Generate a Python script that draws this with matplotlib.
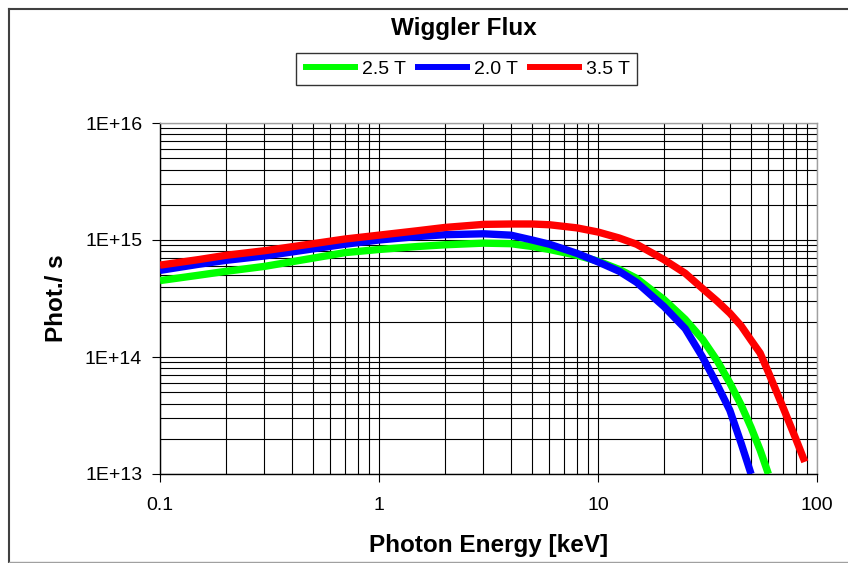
import matplotlib
matplotlib.use("Agg")
import matplotlib.pyplot as plt
from matplotlib.lines import Line2D
from matplotlib.ticker import LogLocator, NullFormatter

plt.rcParams['font.family'] = ['Liberation Sans', 'DejaVu Sans']

# ---- data ----
energy_25 = [0.1, 0.15, 0.2, 0.3, 0.5, 0.7, 1, 1.5, 2, 3, 4, 5, 6, 8, 10,
             12.5, 15, 20, 25, 30, 35, 40, 45, 50, 55, 60]
flux_25 = [4.5e14, 5.0e14, 5.4e14, 5.95e14, 7.0e14, 7.8e14, 8.3e14, 8.8e14,
           9.1e14, 9.4e14, 9.3e14, 8.8e14, 8.3e14, 7.4e14, 6.6e14, 5.6e14,
           4.7e14, 3.1e14, 2.1e14, 1.42e14, 9.3e13, 6.0e13, 3.9e13, 2.5e13,
           1.6e13, 1.0e13]

energy_20 = [0.1, 0.15, 0.2, 0.3, 0.5, 0.7, 1, 1.5, 2, 3, 4, 5, 6, 8, 10,
             12.5, 15, 20, 25, 30, 35, 40, 45, 50]
flux_20 = [5.5e14, 6.2e14, 6.7e14, 7.3e14, 8.4e14, 9.2e14, 1.0e15, 1.07e15,
           1.11e15, 1.13e15, 1.1e15, 1.0e15, 9.2e14, 7.7e14, 6.5e14, 5.4e14,
           4.35e14, 2.7e14, 1.75e14, 1.0e14, 5.8e13, 3.5e13, 1.84e13, 1.0e13]

energy_35 = [0.1, 0.15, 0.2, 0.3, 0.5, 0.7, 1, 1.5, 2, 3, 4, 5, 6, 8, 10,
             12.5, 15, 20, 25, 30, 35, 40, 45, 50, 55, 60, 70, 80, 88]
flux_35 = [6.1e14, 6.8e14, 7.4e14, 8.1e14, 9.3e14, 1.02e15, 1.1e15, 1.2e15,
           1.28e15, 1.36e15, 1.37e15, 1.37e15, 1.35e15, 1.27e15, 1.17e15,
           1.04e15, 9.2e14, 6.8e14, 5.2e14, 3.85e14, 3.0e14, 2.37e14, 1.85e14,
           1.39e14, 1.08e14, 7.4e13, 3.7e13, 2.0e13, 1.27e13]

series_labels = ['2.5 T', '2.0 T', '3.5 T']
series_colors = ['#00ff00', '#0000ff', '#ff0000']
x_ticks = [0.1, 1, 10, 100]
x_ticklabels = ['0.1', '1', '10', '100']
y_ticks = [1e13, 1e14, 1e15, 1e16]
y_ticklabels = ['1E+13', '1E+14', '1E+15', '1E+16']

W, H = 848, 563
fig = plt.figure(figsize=(W / 100, H / 100), dpi=100)
fig.patch.set_facecolor('white')

L, R, T, B = 160, 817, 123, 474
ax = fig.add_axes([L / W, 1 - B / H, (R - L) / W, (B - T) / H])
ax.set_xscale('log')
ax.set_yscale('log')
ax.set_xlim(0.1, 100)
ax.set_ylim(1e13, 1e16)

ax.xaxis.set_minor_locator(LogLocator(base=10, subs=range(2, 10)))
ax.yaxis.set_minor_locator(LogLocator(base=10, subs=range(2, 10)))
ax.xaxis.set_minor_formatter(NullFormatter())
ax.yaxis.set_minor_formatter(NullFormatter())
ax.set_xticks(x_ticks)
ax.set_xticklabels(x_ticklabels)
ax.set_yticks(y_ticks)
ax.set_yticklabels(y_ticklabels)

ax.grid(True, which='both', color='black', linewidth=0.8)
ax.set_axisbelow(True)
ax.tick_params(which='minor', length=0)
ax.tick_params(which='major', direction='out', length=5.8, width=0.8,
               labelsize=14, color='black')
ax.tick_params(axis='x', pad=11)
ax.tick_params(axis='y', pad=7)

for s in ['left', 'bottom']:
    ax.spines[s].set_color('black')
    ax.spines[s].set_linewidth(1.0)
for s in ['top', 'right']:
    ax.spines[s].set_color('#a0a0a0')
    ax.spines[s].set_linewidth(1.0)

handles = []
for e, f, lab, c in zip([energy_25, energy_20, energy_35],
                        [flux_25, flux_20, flux_35],
                        series_labels, series_colors):
    h, = ax.plot(e, f, color=c, linewidth=5.3, label=lab, zorder=3,
                 solid_capstyle='butt', solid_joinstyle='round')
    handles.append(h)

ax.set_xlabel('Photon Energy [keV]', fontsize=17.5, fontweight='bold', labelpad=14)
ax.set_ylabel('Phot./ s', fontsize=17.5, fontweight='bold', labelpad=12)

fig.text(464 / W, 1 - 29 / H, 'Wiggler Flux', ha='center', va='center',
         fontsize=17.5, fontweight='bold')

leg = fig.legend(handles=handles, labels=series_labels, loc='center',
                 bbox_to_anchor=(466.5 / W, 1 - 69 / H), ncol=3, fontsize=14,
                 frameon=True, fancybox=False, shadow=False,
                 handlelength=2.8, handletextpad=0.2, columnspacing=0.5,
                 borderpad=0.35, borderaxespad=0)
leg.get_frame().set_edgecolor('black')
leg.get_frame().set_linewidth(1.0)
for lh in leg.get_lines():
    lh.set_linewidth(4.3)

# outer chart border
def fig_line(x0, y0, x1, y1, color, lw):
    fig.add_artist(Line2D([x0 / W, x1 / W], [1 - y0 / H, 1 - y1 / H],
                          transform=fig.transFigure, color=color, linewidth=lw))

fig_line(9, 9, W, 9, '#404040', 1.5)
fig_line(9, 9, 9, H, '#404040', 1.5)
fig_line(9, 562, W, 562, '#a0a0a0', 1.0)

fig.savefig('out.png', dpi=100, facecolor='white')
